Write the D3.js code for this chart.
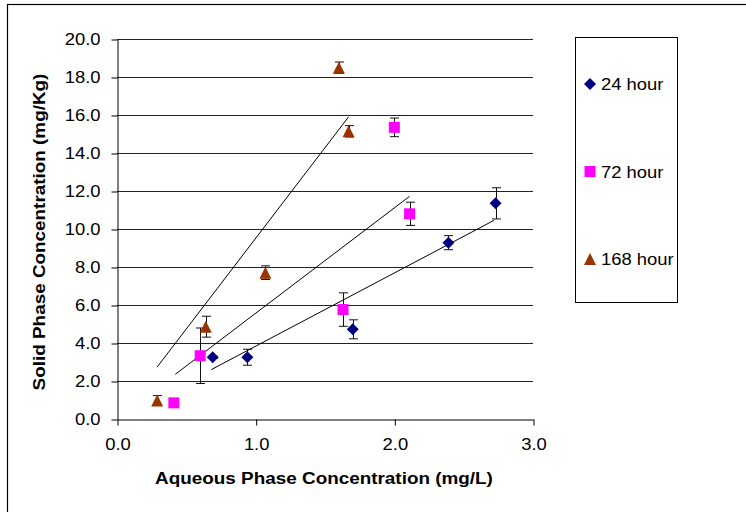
<!DOCTYPE html>
<html>
<head>
<meta charset="utf-8">
<script src="https://cdn.jsdelivr.net/npm/d3@7"></script>
<style>
  body { margin: 0; background: #fff; }
  svg text { font-family: "Liberation Sans", Arial, sans-serif; fill: #000; }
</style>
</head>
<body>
<svg id="chart" width="746" height="512"></svg>
<script>
// series names, in legend order
const seriesNames = ["24 hour", "72 hour", "168 hour"];
const seriesColors = ["#000080", "#FF00FF", "#993300"];
const seriesShapes = ["diamond", "square", "triangle"];

// aqueous (x) / solid (y) phase values and +/- error
const x24 = [0.69, 0.94, 1.70, 2.39, 2.73];
const y24 = [3.25, 3.25, 4.72, 9.28, 11.35];
const err24 = [0.05, 0.42, 0.5, 0.37, 0.82];

const x72 = [0.41, 0.60, 1.63, 2.11, 2.00];
const y72 = [0.85, 3.33, 5.76, 10.8, 15.35];
const err72 = [0.08, 1.46, 0.88, 0.61, 0.49];

const x168 = [0.29, 0.64, 1.07, 1.67, 1.60];
const y168 = [0.98, 4.86, 7.7, 15.14, 18.49];
const err168 = [0.25, 0.55, 0.36, 0.3, 0.3];

// linear trend lines: [start, end] as [x, y]
const trend24 = [[0.68, 2.6], [2.72, 10.46]];
const trend72 = [[0.42, 2.35], [2.11, 11.72]];
const trend168 = [[0.29, 2.74], [1.67, 15.9]];

const xTicks = [0, 1, 2, 3];
const yTicks = [0, 2, 4, 6, 8, 10, 12, 14, 16, 18, 20];

const series = [
  {x: x24, y: y24, err: err24, trend: trend24},
  {x: x72, y: y72, err: err72, trend: trend72},
  {x: x168, y: y168, err: err168, trend: trend168}
].map((s, i) => ({...s, name: seriesNames[i], color: seriesColors[i], shape: seriesShapes[i]}));

const svg = d3.select("#chart");
const xScale = d3.scaleLinear().domain([0, 3]).range([117, 533]);
const yScale = d3.scaleLinear().domain([0, 20]).range([419, 39]);
const fmt = d3.format(".1f");

// the original text looks stretched sideways, so widen it a little
function stretch(sel, k = 1.15) {
  sel.each(function() {
    const w = this.getComputedTextLength();
    d3.select(this).attr("textLength", w * k).attr("lengthAdjust", "spacingAndGlyphs");
  });
}

function markerPath(shape, r) {
  if (shape === "diamond") return `M0,${-r}L${r},0L0,${r}L${-r},0Z`;
  if (shape === "square") return `M${-r + 0.5},${-r + 0.5}H${r - 0.5}V${r - 0.5}H${-r + 0.5}Z`;
  return `M0,${-r}L${r},${r}H${-r}Z`;
}

// outer chart border (only left and top show in the crop)
svg.append("rect")
  .attr("x", 7.5).attr("y", 4.5)
  .attr("width", 800).attr("height", 600)
  .attr("fill", "none").attr("stroke", "#000").attr("stroke-width", 1.2);

// horizontal gridlines
svg.append("g")
  .selectAll("line")
  .data(yTicks.filter(d => d > 0))
  .join("line")
  .attr("x1", xScale(0)).attr("x2", xScale(3))
  .attr("y1", d => Math.round(yScale(d)) + 0.5).attr("y2", d => Math.round(yScale(d)) + 0.5)
  .attr("stroke", "#222").attr("stroke-width", 1);

// axes
const yAxis = svg.append("g")
  .attr("transform", `translate(${xScale(0) + 0.5},0.5)`)
  .call(d3.axisLeft(yScale).tickValues(yTicks).tickFormat(fmt).tickSize(6).tickSizeOuter(0).tickPadding(11));
const xAxis = svg.append("g")
  .attr("transform", `translate(0.5,${Math.round(yScale(0)) + 0.5})`)
  .call(d3.axisBottom(xScale).tickValues(xTicks).tickFormat(fmt).tickSize(6).tickSizeOuter(0).tickPadding(13));

[yAxis, xAxis].forEach(ax => {
  ax.select(".domain").attr("stroke", "#000");
  ax.selectAll(".tick line").attr("stroke", "#000");
  ax.selectAll("text").attr("font-size", 16).attr("font-family", null).call(stretch);
});

// trend lines
svg.append("g")
  .selectAll("line")
  .data(series)
  .join("line")
  .attr("x1", d => xScale(d.trend[0][0])).attr("y1", d => yScale(d.trend[0][1]))
  .attr("x2", d => xScale(d.trend[1][0])).attr("y2", d => yScale(d.trend[1][1]))
  .attr("stroke", "#000").attr("stroke-width", 1);

// points with error bars
const pts = series.flatMap(s => s.x.map((xv, i) => ({x: xv, y: s.y[i], err: s.err[i], color: s.color, shape: s.shape})));

const eb = svg.append("g").selectAll("g").data(pts).join("g")
  .attr("transform", d => `translate(${Math.round(xScale(d.x)) + 0.5},0)`)
  .attr("stroke", "#111").attr("stroke-width", 1);
eb.append("line")
  .attr("y1", d => yScale(d.y + d.err)).attr("y2", d => yScale(d.y - d.err));
eb.append("line")
  .attr("x1", -4.5).attr("x2", 4.5)
  .attr("y1", d => yScale(d.y + d.err)).attr("y2", d => yScale(d.y + d.err));
eb.append("line")
  .attr("x1", -4.5).attr("x2", 4.5)
  .attr("y1", d => yScale(d.y - d.err)).attr("y2", d => yScale(d.y - d.err));

svg.append("g").selectAll("path").data(pts).join("path")
  .attr("transform", d => `translate(${xScale(d.x)},${yScale(d.y)})`)
  .attr("d", d => markerPath(d.shape, 6))
  .attr("fill", d => d.color);

// axis titles
svg.append("text")
  .attr("x", 324).attr("y", 484)
  .attr("text-anchor", "middle")
  .attr("font-size", 16).attr("font-weight", "bold")
  .text("Aqueous Phase Concentration (mg/L)")
  .call(stretch, 1.18);

svg.append("text")
  .attr("transform", "translate(45,232) rotate(-90)")
  .attr("text-anchor", "middle")
  .attr("font-size", 16).attr("font-weight", "bold")
  .text("Solid Phase Concentration (mg/Kg)")
  .call(stretch, 1.18);

// legend
const legend = svg.append("g");
legend.append("rect")
  .attr("x", 575.5).attr("y", 37.5).attr("width", 102).attr("height", 265)
  .attr("fill", "#fff").attr("stroke", "#000").attr("stroke-width", 1);
const legendY = d3.scalePoint().domain(seriesNames).range([84, 259]);
const li = legend.selectAll("g.item").data(series).join("g")
  .attr("class", "item")
  .attr("transform", d => `translate(590,${legendY(d.name)})`);
li.append("path")
  .attr("d", d => markerPath(d.shape, 6))
  .attr("fill", d => d.color);
li.append("text")
  .attr("x", 11).attr("y", 6)
  .attr("font-size", 16)
  .text(d => d.name)
  .call(stretch);
</script>
</body>
</html>
